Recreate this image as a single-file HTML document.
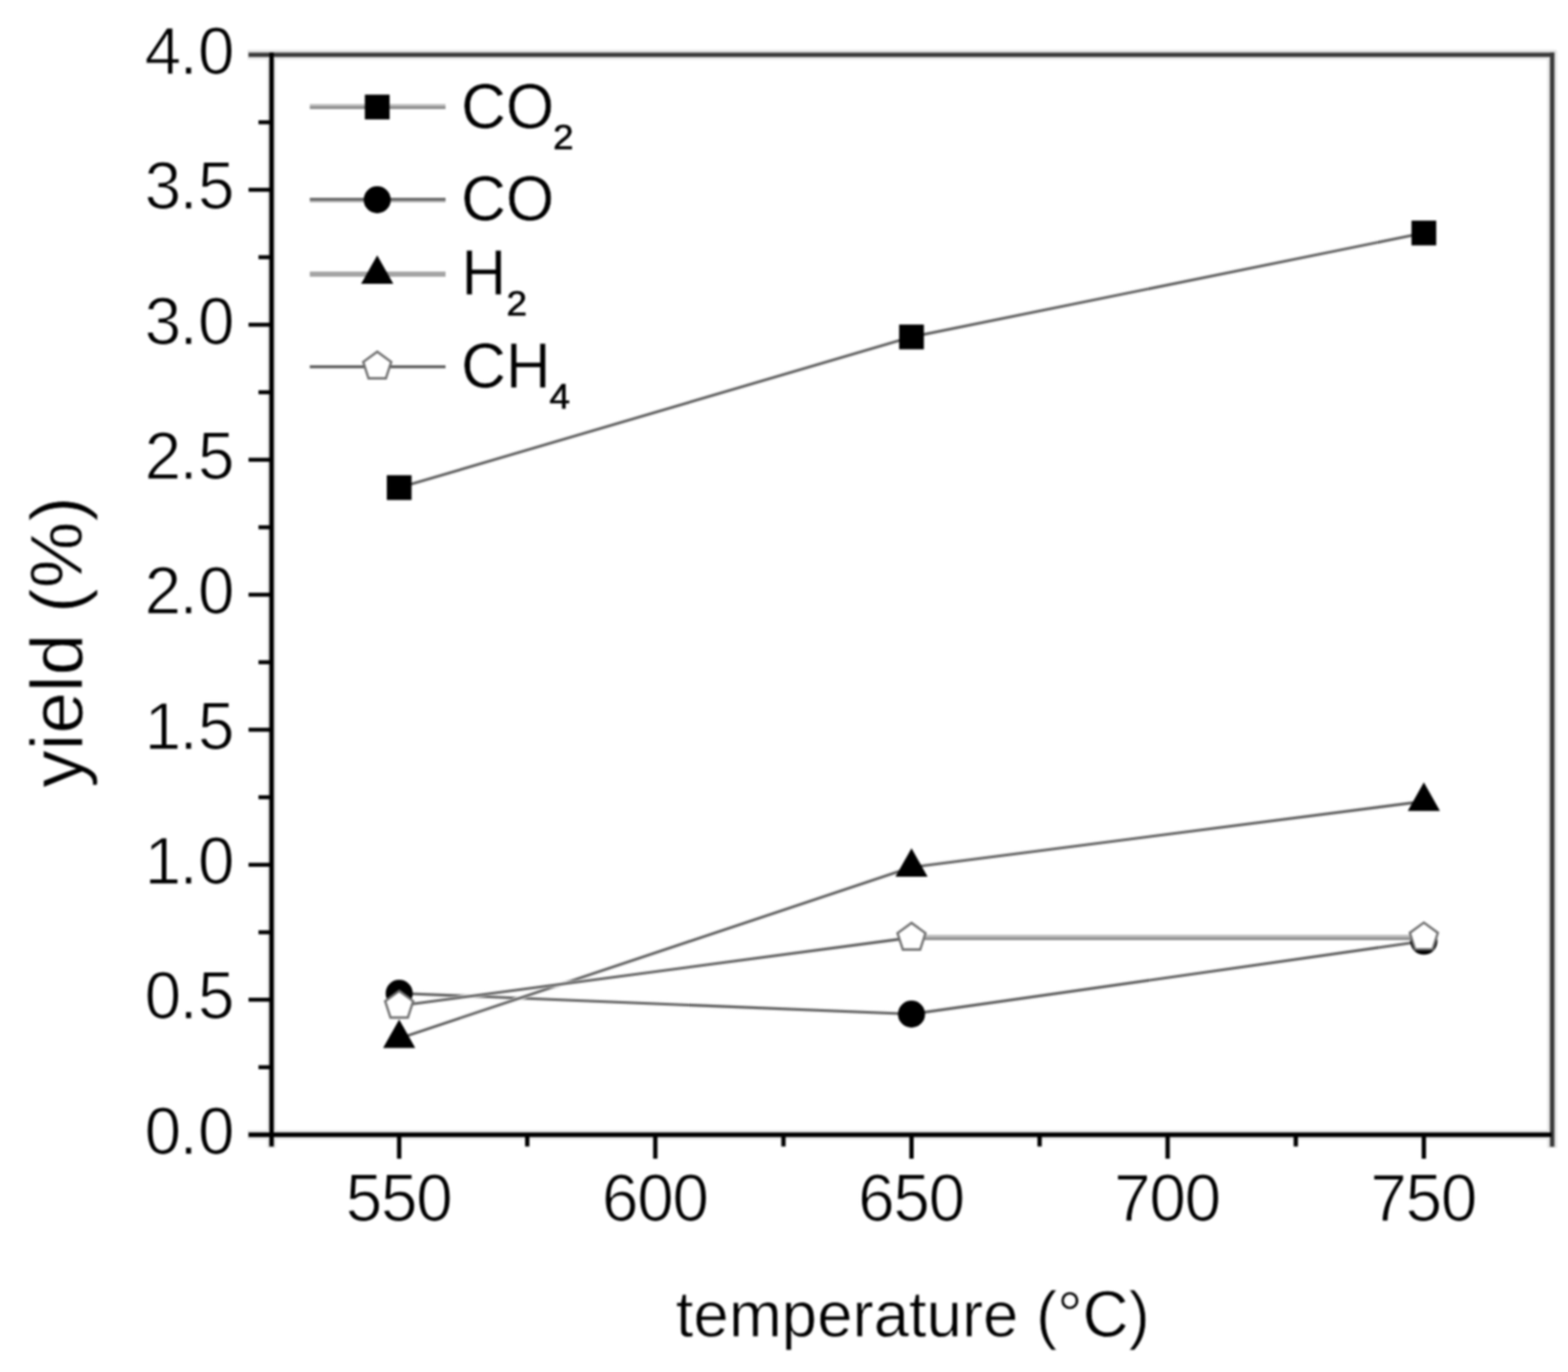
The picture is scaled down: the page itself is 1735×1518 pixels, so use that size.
<!DOCTYPE html>
<html lang="en"><head><meta charset="utf-8"><title>yield vs temperature</title>
<style>html,body{margin:0;padding:0;background:#fff;}body{width:1735px;height:1518px;overflow:hidden;}svg{display:block;}text{font-family:"Liberation Sans",sans-serif;fill:#000;}</style></head><body>
<svg width="1735" height="1518" viewBox="0 0 1735 1518">
<defs><filter id="soft" x="0" y="0" width="1735" height="1518" filterUnits="userSpaceOnUse" color-interpolation-filters="sRGB"><feGaussianBlur stdDeviation="0.8"/></filter></defs>
<g filter="url(#soft)">
<rect x="-20" y="-20" width="1775" height="1558" fill="#fff"/>
<g stroke-linecap="butt" fill="none">
<line x1="274" y1="60.6" x2="1722" y2="60.6" stroke="#e2e2e2" stroke-width="10.5"/>
<line x1="1717.5" y1="56" x2="1717.5" y2="1270" stroke="#e2e2e2" stroke-width="10.5"/>
<line x1="300.5" y1="62" x2="300.5" y2="1270" stroke="#e2e2e2" stroke-width="9.5"/>
<line x1="274" y1="1255.5" x2="1717" y2="1255.5" stroke="#e2e2e2" stroke-width="10"/>
<line x1="275" y1="60.6" x2="1720" y2="60.6" stroke="#3a3a3a" stroke-width="4.9"/>
<line x1="1717.5" y1="58" x2="1717.5" y2="1268.7" stroke="#3a3a3a" stroke-width="4.9"/>
<line x1="300.5" y1="58" x2="300.5" y2="1268.5" stroke="#000" stroke-width="4.9"/>
<line x1="275" y1="1255.5" x2="1717" y2="1255.5" stroke="#000" stroke-width="4.9"/>
<line x1="275" y1="1106.1" x2="300.5" y2="1106.1" stroke="#000" stroke-width="4.4"/>
<line x1="275" y1="956.8" x2="300.5" y2="956.8" stroke="#000" stroke-width="4.4"/>
<line x1="275" y1="807.4" x2="300.5" y2="807.4" stroke="#000" stroke-width="4.4"/>
<line x1="275" y1="658.0" x2="300.5" y2="658.0" stroke="#000" stroke-width="4.4"/>
<line x1="275" y1="508.7" x2="300.5" y2="508.7" stroke="#000" stroke-width="4.4"/>
<line x1="275" y1="359.3" x2="300.5" y2="359.3" stroke="#000" stroke-width="4.4"/>
<line x1="275" y1="210.0" x2="300.5" y2="210.0" stroke="#000" stroke-width="4.4"/>
<line x1="286" y1="1180.8" x2="300.5" y2="1180.8" stroke="#000" stroke-width="4.4"/>
<line x1="286" y1="1031.5" x2="300.5" y2="1031.5" stroke="#000" stroke-width="4.4"/>
<line x1="286" y1="882.1" x2="300.5" y2="882.1" stroke="#000" stroke-width="4.4"/>
<line x1="286" y1="732.7" x2="300.5" y2="732.7" stroke="#000" stroke-width="4.4"/>
<line x1="286" y1="583.4" x2="300.5" y2="583.4" stroke="#000" stroke-width="4.4"/>
<line x1="286" y1="434.0" x2="300.5" y2="434.0" stroke="#000" stroke-width="4.4"/>
<line x1="286" y1="284.6" x2="300.5" y2="284.6" stroke="#000" stroke-width="4.4"/>
<line x1="286" y1="135.3" x2="300.5" y2="135.3" stroke="#000" stroke-width="4.4"/>
<line x1="441.7" y1="1255.5" x2="441.7" y2="1282" stroke="#000" stroke-width="4.8"/>
<line x1="725.1" y1="1255.5" x2="725.1" y2="1282" stroke="#000" stroke-width="4.8"/>
<line x1="1008.6" y1="1255.5" x2="1008.6" y2="1282" stroke="#000" stroke-width="4.8"/>
<line x1="1292.0" y1="1255.5" x2="1292.0" y2="1282" stroke="#000" stroke-width="4.8"/>
<line x1="1575.5" y1="1255.5" x2="1575.5" y2="1282" stroke="#000" stroke-width="4.8"/>
<line x1="583.4" y1="1255.5" x2="583.4" y2="1268.5" stroke="#000" stroke-width="4.8"/>
<line x1="866.9" y1="1255.5" x2="866.9" y2="1268.5" stroke="#000" stroke-width="4.8"/>
<line x1="1150.3" y1="1255.5" x2="1150.3" y2="1268.5" stroke="#000" stroke-width="4.8"/>
<line x1="1433.8" y1="1255.5" x2="1433.8" y2="1268.5" stroke="#000" stroke-width="4.8"/>
</g>
<text transform="translate(259.6,1276.8) scale(0.972,1)" font-size="75.0" text-anchor="end" stroke="#fff" stroke-width="1.2" dx="0 -2.2 0.4">0.0</text>
<text transform="translate(259.6,1127.4) scale(0.972,1)" font-size="75.0" text-anchor="end" stroke="#fff" stroke-width="1.2" dx="0 -2.2 0.4">0.5</text>
<text transform="translate(259.6,978.1) scale(0.972,1)" font-size="75.0" text-anchor="end" stroke="#fff" stroke-width="1.2" dx="0 -2.2 0.4">1.0</text>
<text transform="translate(259.6,828.7) scale(0.972,1)" font-size="75.0" text-anchor="end" stroke="#fff" stroke-width="1.2" dx="0 -2.2 0.4">1.5</text>
<text transform="translate(259.6,679.3) scale(0.972,1)" font-size="75.0" text-anchor="end" stroke="#fff" stroke-width="1.2" dx="0 -2.2 0.4">2.0</text>
<text transform="translate(259.6,530.0) scale(0.972,1)" font-size="75.0" text-anchor="end" stroke="#fff" stroke-width="1.2" dx="0 -2.2 0.4">2.5</text>
<text transform="translate(259.6,380.6) scale(0.972,1)" font-size="75.0" text-anchor="end" stroke="#fff" stroke-width="1.2" dx="0 -2.2 0.4">3.0</text>
<text transform="translate(259.6,231.3) scale(0.972,1)" font-size="75.0" text-anchor="end" stroke="#fff" stroke-width="1.2" dx="0 -2.2 0.4">3.5</text>
<text transform="translate(259.6,81.9) scale(0.972,1)" font-size="75.0" text-anchor="end" stroke="#fff" stroke-width="1.2" dx="0 -2.2 0.4">4.0</text>
<text transform="translate(441.8,1351.0) scale(0.972,1)" font-size="75.0" text-anchor="middle" stroke="#fff" stroke-width="1.2" dx="0 -1.6 -1.6">550</text>
<text transform="translate(725.2,1351.0) scale(0.972,1)" font-size="75.0" text-anchor="middle" stroke="#fff" stroke-width="1.2" dx="0 -1.6 -1.6">600</text>
<text transform="translate(1008.7,1351.0) scale(0.972,1)" font-size="75.0" text-anchor="middle" stroke="#fff" stroke-width="1.2" dx="0 -1.6 -1.6">650</text>
<text transform="translate(1292.1,1351.0) scale(0.972,1)" font-size="75.0" text-anchor="middle" stroke="#fff" stroke-width="1.2" dx="0 -1.6 -1.6">700</text>
<text transform="translate(1575.6,1351.0) scale(0.972,1)" font-size="75.0" text-anchor="middle" stroke="#fff" stroke-width="1.2" dx="0 -1.6 -1.6">750</text>
<text transform="translate(1010.0,1479.0) scale(0.97,1)" font-size="72.5" text-anchor="middle" stroke="#fff" stroke-width="0.8">temperature (°C)</text>
<text transform="translate(90.5,710.5) rotate(-90) scale(1.01,1)" font-size="82" text-anchor="middle" stroke="#fff" stroke-width="0.8">yield (%)</text>
<g>
<line x1="441.7" y1="539.5" x2="1008.6" y2="372.8" stroke="#d8d8d8" stroke-width="4.6"/>
<line x1="441.7" y1="539.5" x2="1008.6" y2="372.8" stroke="#444444" stroke-width="2.1"/>
<line x1="1008.6" y1="372.8" x2="1575.5" y2="257.8" stroke="#d8d8d8" stroke-width="4.6"/>
<line x1="1008.6" y1="372.8" x2="1575.5" y2="257.8" stroke="#444444" stroke-width="2.1"/>
<rect x="428.0" y="525.8" width="27.4" height="27.4" fill="#000"/>
<rect x="994.9" y="359.1" width="27.4" height="27.4" fill="#000"/>
<rect x="1561.8" y="244.1" width="27.4" height="27.4" fill="#000"/>
</g>
<g>
<line x1="441.7" y1="1099.0" x2="1008.6" y2="1122.0" stroke="#d8d8d8" stroke-width="4.6"/>
<line x1="441.7" y1="1099.0" x2="1008.6" y2="1122.0" stroke="#444444" stroke-width="2.1"/>
<line x1="1008.6" y1="1122.0" x2="1575.5" y2="1041.3" stroke="#d8d8d8" stroke-width="4.6"/>
<line x1="1008.6" y1="1122.0" x2="1575.5" y2="1041.3" stroke="#444444" stroke-width="2.1"/>
<circle cx="441.7" cy="1099.0" r="15" fill="#000"/>
<circle cx="1008.6" cy="1122.0" r="15" fill="#000"/>
<circle cx="1575.5" cy="1041.3" r="15" fill="#000"/>
</g>
<g>
<line x1="441.7" y1="1148.9" x2="1008.6" y2="959.5" stroke="#d8d8d8" stroke-width="4.6"/>
<line x1="441.7" y1="1148.9" x2="1008.6" y2="959.5" stroke="#444444" stroke-width="2.1"/>
<line x1="1008.6" y1="959.5" x2="1575.5" y2="886.6" stroke="#d8d8d8" stroke-width="4.6"/>
<line x1="1008.6" y1="959.5" x2="1575.5" y2="886.6" stroke="#444444" stroke-width="2.1"/>
<polygon points="441.7,1127.9 459.5,1159.5 423.9,1159.5" fill="#000"/>
<polygon points="1008.6,938.5 1026.4,970.1 990.8,970.1" fill="#000"/>
<polygon points="1575.5,865.6 1593.3,897.2 1557.7,897.2" fill="#000"/>
</g>
<g>
<line x1="441.7" y1="1112.7" x2="1008.6" y2="1037.4" stroke="#d8d8d8" stroke-width="4.6"/>
<line x1="441.7" y1="1112.7" x2="1008.6" y2="1037.4" stroke="#444444" stroke-width="2.1"/>
<rect x="1008.6" y="1034.4" width="566.9" height="2.9" fill="#b8b8b8"/><rect x="1008.6" y="1037.3" width="566.9" height="2.8" fill="#888888"/>
<polygon points="441.7,1096.4 457.2,1107.7 451.3,1125.9 432.1,1125.9 426.2,1107.7" fill="#fff" stroke="#707070" stroke-width="2.6" stroke-linejoin="miter"/>
<polygon points="1008.6,1021.1 1024.1,1032.4 1018.2,1050.6 999.0,1050.6 993.1,1032.4" fill="#fff" stroke="#707070" stroke-width="2.6" stroke-linejoin="miter"/>
<polygon points="1575.5,1020.8 1591.0,1032.1 1585.1,1050.3 1565.9,1050.3 1560.0,1032.1" fill="#fff" stroke="#707070" stroke-width="2.6" stroke-linejoin="miter"/>
</g>
<g>
<rect x="342.8" y="115.0" width="150.2" height="2.6" fill="#c0c0c0"/><rect x="342.8" y="117.6" width="150.2" height="2.9" fill="#808080"/>
<rect x="403.7" y="104.7" width="27.4" height="27.4" fill="#000"/>
<text x="510.2" y="141.5" font-size="70.5"><tspan stroke="#fff" stroke-width="0.5" textLength="103.11" lengthAdjust="spacingAndGlyphs">CO</tspan><tspan x="612.0" y="164.5" font-size="38.5" stroke="#000" stroke-width="0.7" textLength="22.70" lengthAdjust="spacingAndGlyphs">2</tspan></text>
</g>
<g>
<rect x="342.8" y="218.9" width="150.2" height="3.0" fill="#606060"/><rect x="342.8" y="221.9" width="150.2" height="2.0" fill="#b0b0b0"/>
<circle cx="417.4" cy="221.0" r="15" fill="#000"/>
<text x="510.2" y="243.5" font-size="70.5"><tspan stroke="#fff" stroke-width="0.5" textLength="103.11" lengthAdjust="spacingAndGlyphs">CO</tspan></text>
</g>
<g>
<rect x="342.8" y="300.6" width="150.2" height="2.8" fill="#9c9c9c"/><rect x="342.8" y="303.4" width="150.2" height="2.7" fill="#9c9c9c"/>
<polygon points="417.4,282.4 435.2,314.0 399.6,314.0" fill="#000"/>
<text x="510.6" y="325.5" font-size="70.5"><tspan stroke="#fff" stroke-width="0.5" textLength="49.64" lengthAdjust="spacingAndGlyphs">H</tspan><tspan x="560.4" y="348.5" font-size="38.5" stroke="#000" stroke-width="0.7" textLength="22.70" lengthAdjust="spacingAndGlyphs">2</tspan></text>
</g>
<g>
<rect x="342.8" y="404.3" width="150.2" height="1.5" fill="#444444"/><rect x="342.8" y="405.8" width="150.2" height="1.5" fill="#444444"/>
<polygon points="417.4,389.1 432.9,400.4 427.0,418.6 407.8,418.6 401.9,400.4" fill="#fff" stroke="#707070" stroke-width="2.6" stroke-linejoin="miter"/>
<text x="510.2" y="428.5" font-size="70.5"><tspan stroke="#fff" stroke-width="0.5" textLength="99.28" lengthAdjust="spacingAndGlyphs">CH</tspan><tspan x="608.0" y="452.0" font-size="38.5" stroke="#000" stroke-width="0.7" textLength="22.70" lengthAdjust="spacingAndGlyphs">4</tspan></text>
</g>
</g>
</svg></body></html>
